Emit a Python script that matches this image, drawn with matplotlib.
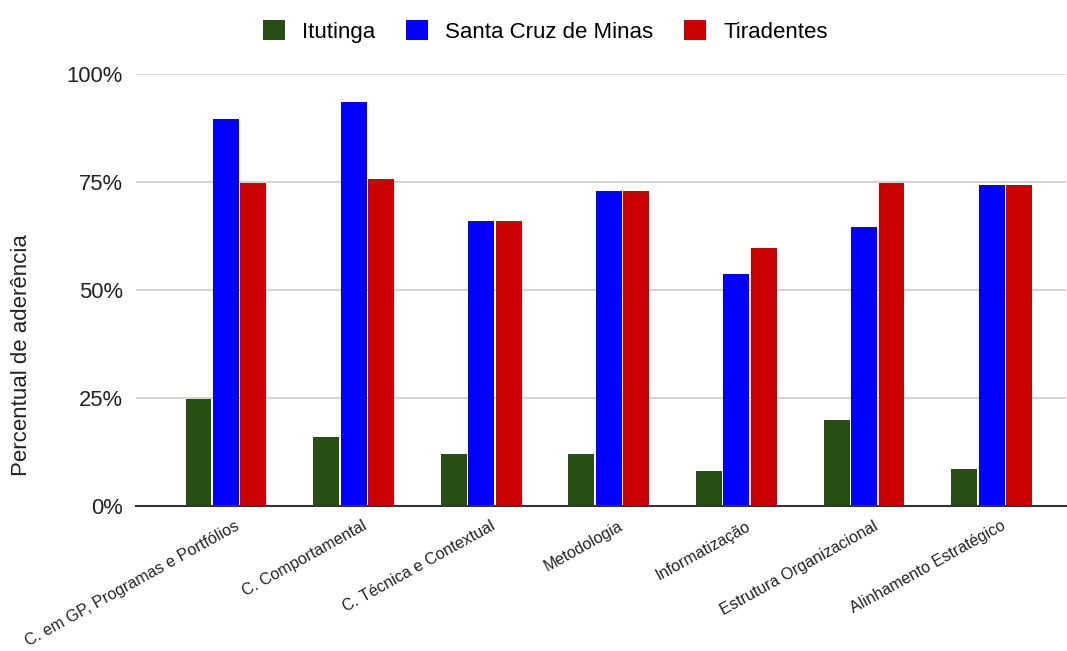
import matplotlib
matplotlib.use("Agg")
import matplotlib.pyplot as plt
import numpy as np

plt.rcParams['font.family'] = ['Liberation Sans', 'DejaVu Sans']

# Data
categories = [
    "C. em GP, Programas e Portfólios",
    "C. Comportamental",
    "C. Técnica e Contextual",
    "Metodologia",
    "Informatização",
    "Estrutura Organizacional",
    "Alinhamento Estratégico",
]
series_names = ["Itutinga", "Santa Cruz de Minas", "Tiradentes"]
itutinga = [24.8, 15.9, 12, 12, 8, 20, 8.5]
santa_cruz = [89.7, 93.6, 66, 73, 53.8, 64.7, 74.3]
tiradentes = [74.9, 75.7, 66, 73, 59.8, 74.8, 74.3]
y_ticks = [0, 25, 50, 75, 100]
colors = ["#274e13", "#0000ff", "#cc0000"]

values = [itutinga, santa_cruz, tiradentes]

fig = plt.figure(figsize=(10.67, 6.51), dpi=100)
ax = fig.add_axes([0.1275, 0.2227, 0.8716, 0.6629])

x = np.arange(len(categories))
step = 0.215
offsets = [-step, 0, step]
for vals, off, c, name in zip(values, offsets, colors, series_names):
    ax.bar(x + off, vals, width=0.203, color=c, label=name, zorder=3)

ax.set_ylim(0, 100)
ax.set_xlim(-0.7045, 6.583)
ax.set_yticks(y_ticks)
ax.set_yticklabels([f"{t}%" for t in y_ticks], fontsize=15.8, color="#222222")
ax.tick_params(axis="y", length=0, pad=9.4)
ax.yaxis.grid(True, color="#cccccc", linewidth=1.2, zorder=0)
ax.set_axisbelow(True)

for s in ["top", "right", "left"]:
    ax.spines[s].set_visible(False)
ax.spines["bottom"].set_color("#333333")
ax.spines["bottom"].set_linewidth(1.5)
ax.spines["bottom"].set_zorder(4)

ax.set_xticks(x + 0.07)
ax.set_xticklabels(categories, rotation=29, ha="right", rotation_mode="anchor",
                   fontsize=11.6, color="#222222")
ax.tick_params(axis="x", length=0, pad=9)

ax.set_ylabel("Percentual de aderência", fontsize=16, color="#222222")
ax.yaxis.set_label_coords(-0.112, 0.35)

fig.legend(loc="upper center", bbox_to_anchor=(0.511, 1.0), ncol=3, frameon=False,
           fontsize=16, handlelength=1.0, handleheight=1.0, handletextpad=0.75,
           columnspacing=1.4)

fig.savefig("out.png", dpi=100)
